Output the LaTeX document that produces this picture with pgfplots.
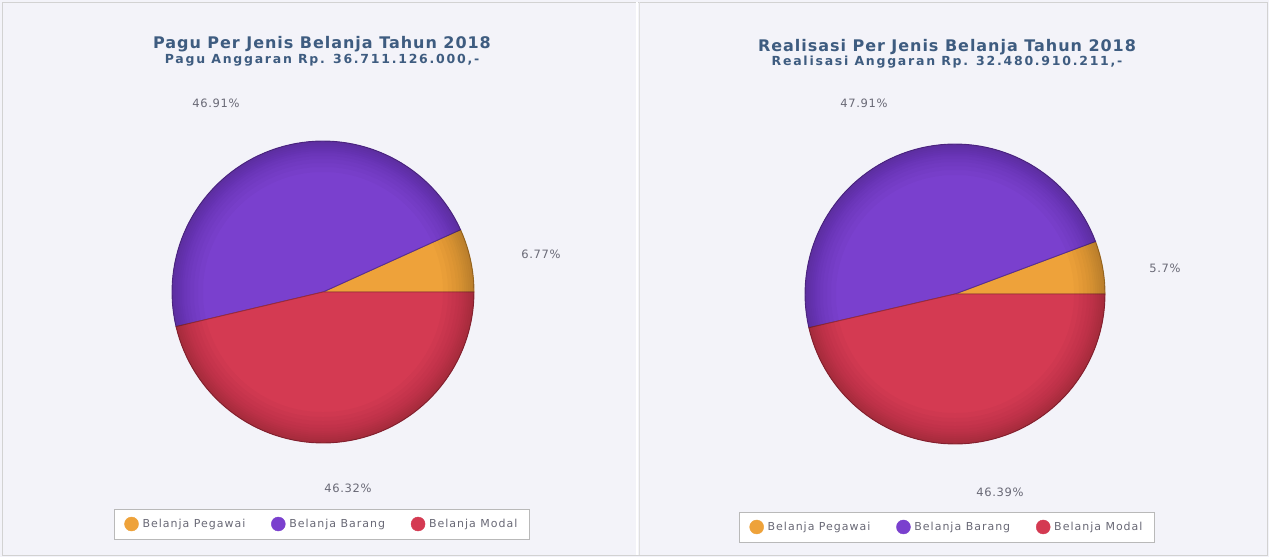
\documentclass[border=0pt]{standalone}
\usepackage{pgfplots}
\pgfplotsset{compat=1.18}
\usepackage{fontspec}
\setmainfont{DejaVu Sans}
\newfontfamily\spaced[LetterSpace=9]{DejaVu Sans}
\definecolor{bg}{RGB}{243,243,249}
\definecolor{peg}{RGB}{238,162,58}
\definecolor{brg}{RGB}{122,64,206}
\definecolor{mdl}{RGB}{212,58,82}
\definecolor{ttl}{RGB}{62,92,128}
\definecolor{lbl}{RGB}{105,105,118}
% percentages: Pegawai, Barang, Modal
\newcommand{\LPeg}{6.77}\newcommand{\LBrg}{46.91}\newcommand{\LMdl}{46.32}
\newcommand{\RPeg}{5.70}\newcommand{\RBrg}{47.91}\newcommand{\RMdl}{46.39}
\pgfplotsset{panel/.style={width=1269pt,height=557pt,scale only axis,
  xmin=0,xmax=1269,ymin=0,ymax=557,y dir=reverse,axis lines=none,clip=false,
  legend columns=3,
  legend style={draw=gray!55, fill=white, font=\spaced\fontsize{11}{12}\selectfont\color{lbl}, anchor=center,
    inner xsep=10pt, inner ysep=8pt,
    /tikz/every even column/.append style={column sep=24pt},
    /tikz/every odd column/.append style={column sep=2pt}},
  legend cell align=left}}
% cx cy r a1 a2 colour
\newcommand{\slice}[6]{%
  \addplot[draw=#6!72!black, fill=#6, line width=0.9pt, domain={#4}:{#5}, samples=70, forget plot]
    ({#1+#3*cos(x)},{#2-#3*sin(x)}) -- (axis cs:#1,#2) -- cycle;}
\newcommand{\ring}[4]{\draw[black, opacity=0.02, line width=#4pt] (axis cs:#1,#2) circle[radius=#3-#4/2];}
\newcommand{\rim}[3]{%
  \ring{#1}{#2}{#3}{2}\ring{#1}{#2}{#3}{4}\ring{#1}{#2}{#3}{6}\ring{#1}{#2}{#3}{8}%
  \ring{#1}{#2}{#3}{10}\ring{#1}{#2}{#3}{12}\ring{#1}{#2}{#3}{15}\ring{#1}{#2}{#3}{18}%
  \ring{#1}{#2}{#3}{22}\ring{#1}{#2}{#3}{26}\ring{#1}{#2}{#3}{31}}
\newcommand{\ttlfont}{\addfontfeatures{LetterSpace=6}\bfseries\fontsize{16}{18}\selectfont}
\newcommand{\subfont}{\addfontfeatures{LetterSpace=14}\bfseries\fontsize{12.5}{14}\selectfont}
\newcommand{\pctfont}{\addfontfeatures{LetterSpace=6}\fontsize{11.5}{13}\selectfont}
\begin{document}
\begin{tikzpicture}
\begin{axis}[panel, legend style={at={(0.2537,0.0592)}}]
  \fill[bg] (axis cs:0,0) rectangle (axis cs:1269,557);
  \draw[gray!35, line width=1pt] (axis cs:2,2) rectangle (axis cs:1267,555);
  \draw[white, line width=2pt] (axis cs:637,2) -- (axis cs:637,555);
  \draw[gray!25, line width=0.6pt] (axis cs:639,2) -- (axis cs:639,555);
  \slice{323}{292}{151}{0}{\LPeg*3.6}{peg}
  \slice{323}{292}{151}{\LPeg*3.6}{(\LPeg+\LBrg)*3.6}{brg}
  \slice{323}{292}{151}{(\LPeg+\LBrg)*3.6}{360}{mdl}
  \rim{323}{292}{151}
  \addlegendimage{only marks, mark=*, mark size=7pt, color=peg}\addlegendentry{Belanja Pegawai}
  \addlegendimage{only marks, mark=*, mark size=7pt, color=brg}\addlegendentry{Belanja Barang}
  \addlegendimage{only marks, mark=*, mark size=7pt, color=mdl}\addlegendentry{Belanja Modal}
  \node[font=\ttlfont, text=ttl] at (axis cs:322,44) {Pagu Per Jenis Belanja Tahun 2018};
  \node[font=\subfont, text=ttl] at (axis cs:322,60) {Pagu Anggaran Rp. 36.711.126.000,-};
  \node[font=\pctfont, text=lbl] at (axis cs:216,103) {\LBrg\%};
  \node[font=\pctfont, text=lbl] at (axis cs:541,254) {\LPeg\%};
  \node[font=\pctfont, text=lbl] at (axis cs:348,488) {\LMdl\%};
\end{axis}
\begin{axis}[panel, legend style={at={(0.7463,0.0539)}}]
  \slice{955}{294}{150}{0}{\RPeg*3.6}{peg}
  \slice{955}{294}{150}{\RPeg*3.6}{(\RPeg+\RBrg)*3.6}{brg}
  \slice{955}{294}{150}{(\RPeg+\RBrg)*3.6}{360}{mdl}
  \rim{955}{294}{150}
  \addlegendimage{only marks, mark=*, mark size=7pt, color=peg}\addlegendentry{Belanja Pegawai}
  \addlegendimage{only marks, mark=*, mark size=7pt, color=brg}\addlegendentry{Belanja Barang}
  \addlegendimage{only marks, mark=*, mark size=7pt, color=mdl}\addlegendentry{Belanja Modal}
  \node[font=\ttlfont, text=ttl] at (axis cs:947,47) {Realisasi Per Jenis Belanja Tahun 2018};
  \node[font=\subfont, text=ttl] at (axis cs:947,62) {Realisasi Anggaran Rp. 32.480.910.211,-};
  \node[font=\pctfont, text=lbl] at (axis cs:864,103) {\RBrg\%};
  \node[font=\pctfont, text=lbl] at (axis cs:1165,268) {5.7\%};
  \node[font=\pctfont, text=lbl] at (axis cs:1000,492) {\RMdl\%};
\end{axis}
\end{tikzpicture}
\end{document}
